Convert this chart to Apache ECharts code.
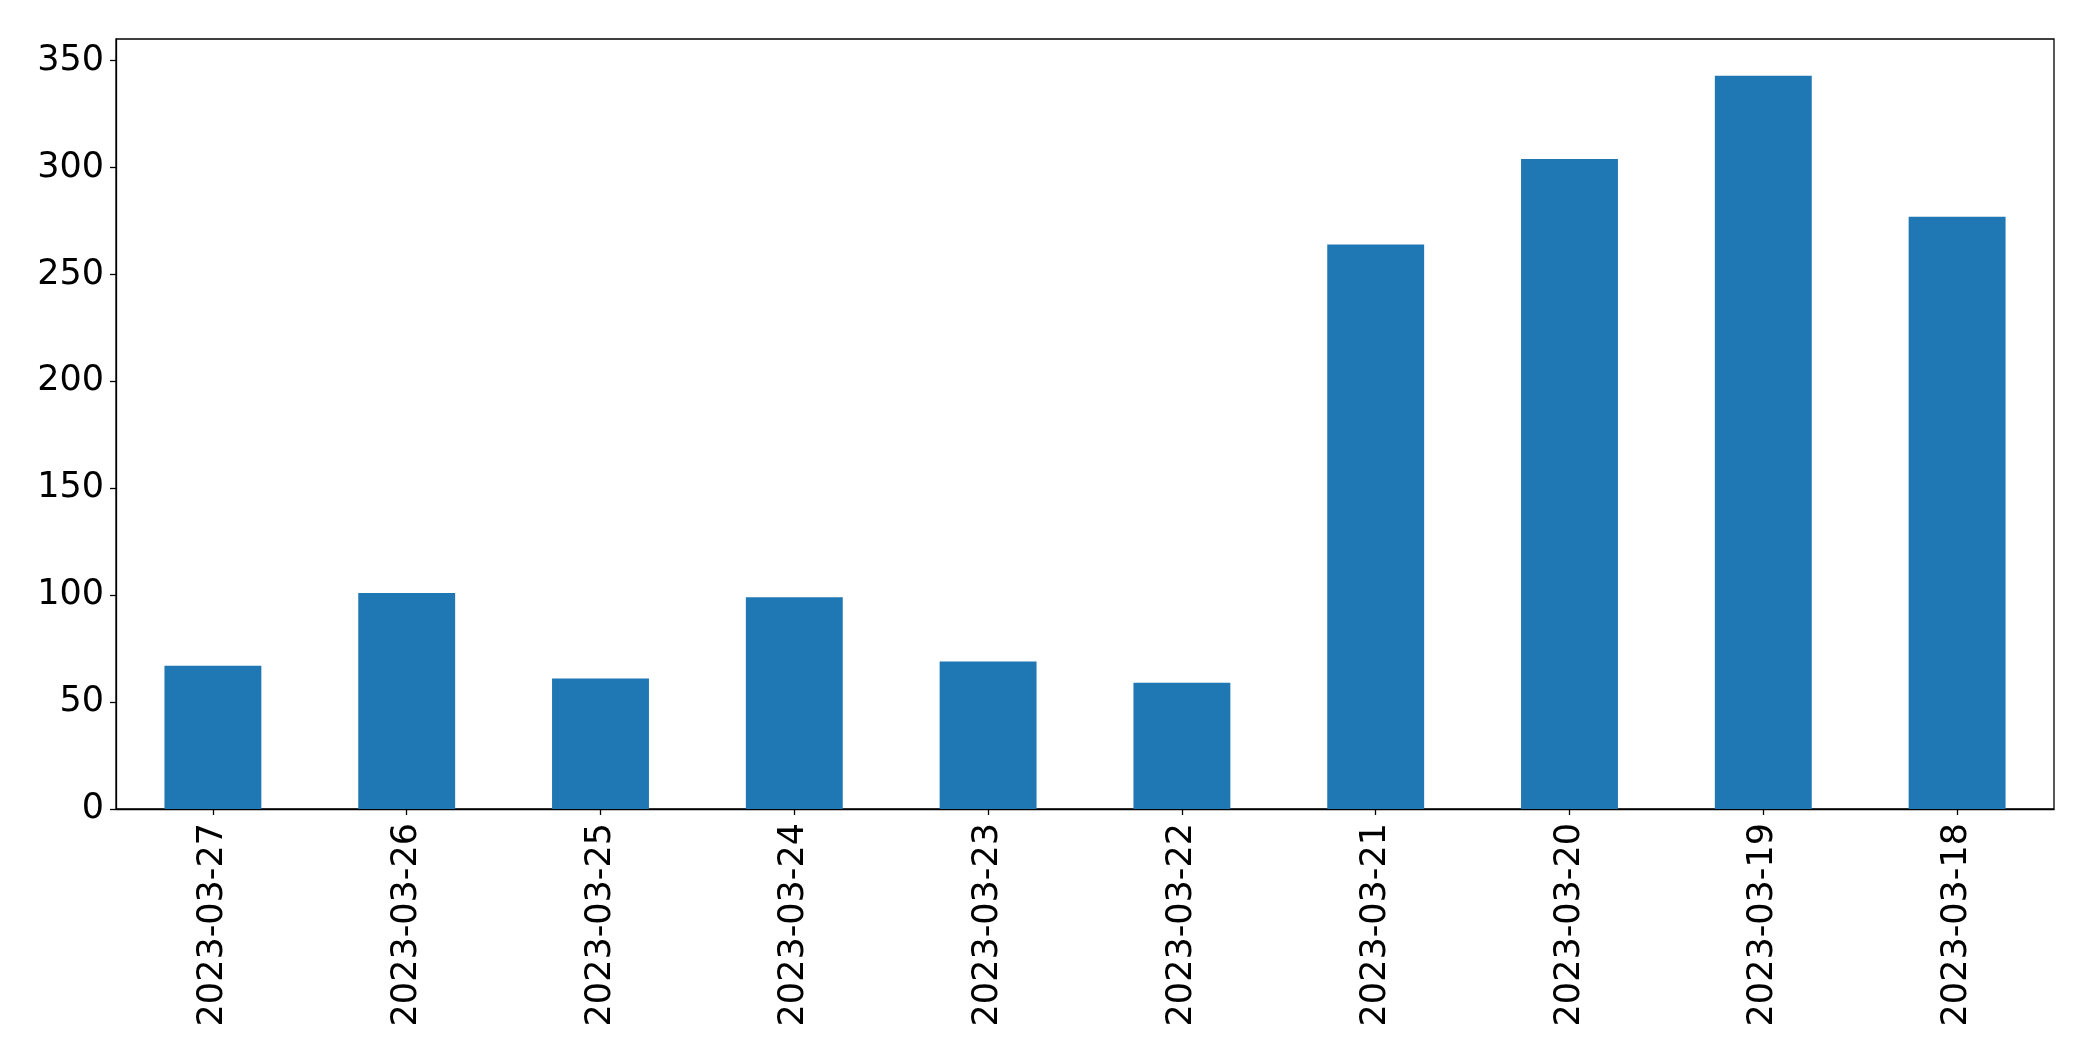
<!DOCTYPE html>
<html>
<head>
<meta charset="utf-8">
<script src="https://cdn.jsdelivr.net/npm/echarts@6/dist/echarts.min.js"></script>
<style>
  html, body { margin: 0; padding: 0; background: #fff; }
  #chart { width: 2093px; height: 1061px; }
</style>
</head>
<body>
<div id="chart"></div>
<script>
const categories = ['2023-03-27','2023-03-26','2023-03-25','2023-03-24','2023-03-23','2023-03-22','2023-03-21','2023-03-20','2023-03-19','2023-03-18'];
const values = [67, 101, 61, 99, 69, 59, 264, 304, 343, 277];
const yTicks = [0, 50, 100, 150, 200, 250, 300, 350];

const chart = echarts.init(document.getElementById('chart'), null, { renderer: 'canvas' });
const font = 'DejaVu Sans';
chart.setOption({
  animation: false,
  backgroundColor: '#ffffff',
  grid: {
    left: 116, right: 39, top: 39, bottom: 252,
    show: true, borderColor: '#000', borderWidth: 1.3, backgroundColor: 'transparent'
  },
  xAxis: {
    type: 'category',
    data: categories,
    boundaryGap: true,
    axisLine: { show: true, lineStyle: { color: '#000', width: 1.3 } },
    axisTick: { show: true, alignWithLabel: true, length: 6, lineStyle: { color: '#000', width: 1.3 } },
    axisLabel: { rotate: 90, margin: 14, color: '#000', fontSize: 35, fontFamily: font, interval: 0 },
    splitLine: { show: false }
  },
  yAxis: {
    type: 'value',
    min: 0,
    max: 360.15,
    interval: 50,
    axisLine: { show: true, lineStyle: { color: '#000', width: 1.3 } },
    axisTick: { show: true, length: 6, customValues: yTicks, lineStyle: { color: '#000', width: 1.3 } },
    axisLabel: { margin: 12, color: '#000', fontSize: 35, fontFamily: font, customValues: yTicks },
    splitLine: { show: false }
  },
  series: [{
    type: 'bar',
    data: values,
    barWidth: '50%',
    itemStyle: { color: '#1f77b4' }
  }]
});
</script>
</body>
</html>
